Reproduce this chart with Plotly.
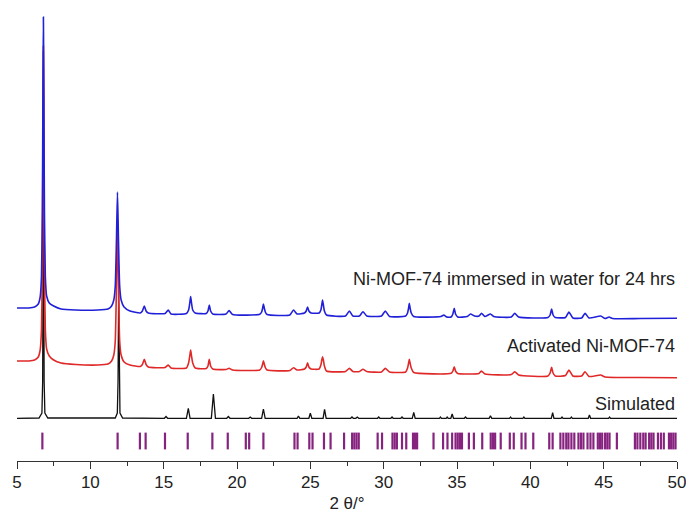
import plotly.graph_objects as go

# ---------------- data ----------------
# Ni-MOF-74 immersed in water for 24 hrs (blue): 2theta and intensity (a.u.)
water_x = [5.0, 5.8, 6.2, 6.45, 6.58, 6.67, 6.73, 6.77, 6.8, 6.83, 6.87, 6.93, 7.02, 7.2, 7.5, 8.0,
           9.0, 10.5, 11.2, 11.45, 11.6, 11.7, 11.78, 11.85, 11.92, 12.0, 12.1, 12.3, 12.7,
           13.4, 13.55, 13.68, 13.8, 13.95, 15.1, 15.31, 15.5,
           16.55, 16.7, 16.78, 16.84, 16.9, 16.98, 17.15,
           17.9, 18.02, 18.11, 18.2, 18.35, 19.25, 19.46, 19.7,
           21.55, 21.68, 21.75, 21.8, 21.86, 21.93, 22.05, 23.6, 23.85, 24.1,
           24.6, 24.72, 24.81, 24.9, 25.05,
           25.6, 25.72, 25.78, 25.83, 25.89, 25.96, 26.1,
           27.4, 27.66, 27.9, 28.35, 28.59, 28.85, 29.85, 30.11, 30.4,
           31.5, 31.63, 31.7, 31.75, 31.8, 31.88, 32.05,
           33.9, 34.1, 34.3, 34.6, 34.72, 34.81, 34.9, 35.05,
           35.7, 35.92, 36.2, 36.5, 36.67, 36.9, 37.28, 37.5, 38.7, 38.94, 39.2,
           41.2, 41.35, 41.45, 41.55, 41.7, 42.4, 42.63, 42.9, 43.5, 43.73,
           44.0, 44.8, 45.1, 45.37, 45.6, 47.5, 50.0]
water_y = [13, 13, 14, 17, 24, 45, 110, 230, 304, 230, 110, 45, 25, 18, 15, 12,
           11, 11, 12, 15, 21, 35, 80, 129, 80, 35, 21, 14, 10,
           8, 10, 15, 10, 8, 7.5, 11, 7,
           7.5, 11, 18, 24.5, 18, 11, 8,
           7.5, 10, 16, 10, 7, 7, 10.5, 6.5,
           6.7, 9, 13, 17, 13, 9, 6.5, 6, 11, 7,
           8, 10, 14, 10, 8,
           8, 11, 16, 21, 16, 10, 6,
           5, 10, 5, 5, 9.3, 5, 5, 10, 4.5,
           5, 8, 13, 17.7, 13, 8, 4.5,
           4.5, 6, 4, 4, 7, 12.7, 7, 4,
           4.5, 7, 5, 5, 7.7, 4.5, 7, 4.5, 4, 7.7, 4,
           3.5, 6, 12, 6, 3.5, 3.5, 9, 3, 3, 7.7,
           3, 5, 2.5, 4, 2.5, 2.5, 2.7]

# Activated Ni-MOF-74 (red)
act_x = [5.0, 5.8, 6.2, 6.45, 6.58, 6.67, 6.73, 6.77, 6.8, 6.83, 6.87, 6.93, 7.02, 7.2, 7.5, 8.0,
         9.0, 10.5, 11.2, 11.45, 11.6, 11.7, 11.78, 11.85, 11.92, 12.0, 12.1, 12.3, 12.7,
         13.4, 13.55, 13.68, 13.8, 13.95, 15.1, 15.31, 15.5,
         16.55, 16.7, 16.78, 16.84, 16.9, 16.98, 17.15,
         17.9, 18.02, 18.11, 18.2, 18.35, 19.25, 19.46, 19.7,
         21.55, 21.68, 21.75, 21.8, 21.86, 21.93, 22.05, 23.6, 23.85, 24.1,
         24.6, 24.72, 24.81, 24.9, 25.05,
         25.6, 25.72, 25.78, 25.83, 25.89, 25.96, 26.1,
         27.4, 27.66, 27.9, 28.35, 28.59, 28.85, 29.85, 30.11, 30.4,
         31.5, 31.63, 31.7, 31.75, 31.8, 31.88, 32.05,
         34.6, 34.72, 34.81, 34.9, 35.05, 36.5, 36.67, 36.9, 38.7, 38.94, 39.2,
         41.2, 41.35, 41.45, 41.55, 41.7, 42.4, 42.63, 42.9, 43.5, 43.73, 44.0,
         44.8, 45.1, 47.5, 50.0]
act_y = [20, 20, 21, 24, 31, 52, 117, 250, 335, 250, 117, 52, 32, 25, 21, 18,
         16.5, 16, 17, 20, 26, 40, 95, 160, 95, 40, 26, 19, 16,
         14.5, 16.5, 21.7, 16.5, 14, 13.5, 16, 13,
         13, 18, 25, 31, 25, 18, 13,
         12.5, 15, 21.7, 15, 12, 11.5, 12.7, 11,
         11, 13.5, 17, 20.3, 17, 13.5, 11, 10.5, 13.3, 11,
         12, 14, 18.3, 14, 12,
         12, 16, 21, 24.3, 21, 15, 10,
         9.5, 12.7, 9.5, 9.5, 11.7, 9.5, 9, 12.7, 9,
         9, 13, 18, 21.7, 18, 13, 8.5,
         7.7, 10, 14.3, 10, 7.5, 7.5, 10, 7, 6.5, 9.3, 6,
         5, 8, 13.7, 8, 5, 5.5, 11, 5, 5, 9.3, 4.5,
         6, 4, 3.5, 3.3]

# Simulated pattern (black)
sim_x = [5.0, 6.5, 6.7, 6.75, 6.78, 6.8, 6.82, 6.85, 6.9, 7.1,
         11.7, 11.84, 11.89, 11.93, 11.97, 12.02, 12.2,
         15.05, 15.16, 15.27, 16.55, 16.68, 16.8, 18.25, 18.39, 18.53, 19.3, 19.41, 19.52,
         20.8, 20.9, 21.0, 21.68, 21.8, 21.92, 24.1, 24.19, 24.28, 24.9, 25.0, 25.1,
         25.87, 25.97, 26.08, 27.75, 27.84, 27.93, 28.1, 28.2, 28.3, 29.58, 29.66, 29.74,
         30.49, 30.57, 30.65, 31.17, 31.25, 31.33, 31.95, 32.05, 32.15, 33.8, 33.87, 33.94,
         34.26, 34.33, 34.4, 34.58, 34.67, 34.76, 35.5, 35.58, 35.66, 37.19, 37.28, 37.37,
         38.58, 38.65, 38.72, 39.49, 39.56, 39.63, 41.43, 41.52, 41.61, 42.09, 42.16, 42.23,
         42.73, 42.8, 42.87, 43.95, 44.03, 44.11, 45.33, 45.4, 45.47, 50.0]
sim_y = [2.7, 3, 8, 40, 200, 370, 200, 40, 8, 3,
         3, 8, 40, 131, 40, 8, 3,
         2.7, 4.5, 2.7, 2.7, 12.7, 2.7, 2.7, 27, 2.7, 2.7, 4.5, 2.7,
         2.7, 4, 2.7, 2.7, 12, 2.7, 2.7, 5, 2.7, 2.7, 7.7, 2.7,
         2.7, 11.7, 2.7, 2.7, 4, 2.7, 2.7, 4, 2.7, 2.7, 4, 2.7,
         2.7, 4, 2.7, 2.7, 4, 2.7, 2.7, 8.7, 2.7, 2.7, 4, 2.7,
         2.7, 4, 2.7, 2.7, 7, 2.7, 2.7, 4, 2.7, 2.7, 5.3, 2.7,
         2.7, 4, 2.7, 2.7, 4, 2.7, 2.7, 8.3, 2.7, 2.7, 4, 2.7,
         2.7, 4, 2.7, 2.7, 6, 2.7, 2.7, 4, 2.7, 2.7]

# Bragg reflection positions (purple ticks)
refl_x = [6.73, 11.86, 13.38, 13.77, 15.09, 16.64, 18.32, 19.37, 20.6, 20.83, 21.8, 23.92, 24.13,
          24.93, 25.15, 25.93, 26.38, 27.3, 27.85, 28.0, 28.15, 28.3, 29.59, 29.89, 30.6, 30.75,
          30.9, 31.25, 31.54, 32.0, 32.14, 32.28, 33.4, 34.05, 34.35, 34.67, 34.9, 35.05, 35.2,
          35.34, 35.81, 36.15, 36.72, 37.3, 37.45, 37.6, 37.98, 38.6, 38.87, 39.4, 39.67, 40.2,
          41.29, 41.52, 42.05, 42.25, 42.45, 42.6, 42.8, 43.0, 43.28, 43.45, 43.62, 43.9, 44.1,
          44.3, 44.6, 44.75, 44.9, 45.1, 45.25, 45.4, 45.9, 47.13, 47.3, 47.5, 47.7, 47.86, 48.1,
          48.25, 48.4, 48.7, 48.9, 49.1, 49.45, 49.6, 49.75, 49.9]

labels = ["Ni-MOF-74 immersed in water for 24 hrs", "Activated Ni-MOF-74", "Simulated"]
x_ticks = [5, 10, 15, 20, 25, 30, 35, 40, 45, 50]

# ---------------- layout / style ----------------
offsets = {"water": 140, "act": 80, "sim": 40}
refl_level = 20
label_y = [182, 115, 57]
FONT = "Arial, Liberation Sans, Helvetica, sans-serif"

fig = go.Figure()
fig.add_trace(go.Scatter(x=sim_x, y=[v + offsets["sim"] for v in sim_y], mode="lines",
                         line=dict(color="#111111", width=1.3), hoverinfo="skip"))
fig.add_trace(go.Scatter(x=act_x, y=[v + offsets["act"] for v in act_y], mode="lines",
                         line=dict(color="#e02828", width=1.6, shape="spline", smoothing=0.5),
                         hoverinfo="skip"))
fig.add_trace(go.Scatter(x=water_x, y=[v + offsets["water"] for v in water_y], mode="lines",
                         line=dict(color="#2020d8", width=1.6, shape="spline", smoothing=0.5),
                         hoverinfo="skip"))
fig.add_trace(go.Scatter(x=refl_x, y=[refl_level] * len(refl_x), mode="markers",
                         marker=dict(symbol="line-ns-open", size=12, color="#86237f",
                                     line=dict(color="#86237f", width=2.2)),
                         hoverinfo="skip"))

for txt, yy in zip(labels, label_y):
    fig.add_annotation(x=1, xref="paper", xanchor="right", y=yy, yref="y", yanchor="middle",
                       text=txt, showarrow=False, font=dict(family=FONT, size=18, color="#222222"))

fig.update_layout(
    width=686, height=523,
    margin=dict(l=17, r=9, t=0, b=62),
    plot_bgcolor="white", paper_bgcolor="white",
    showlegend=False,
    font=dict(family=FONT, size=17, color="#222222"),
    xaxis=dict(range=[5, 50], tickvals=x_ticks, ticks="outside", ticklen=7, tickwidth=1.3,
               tickcolor="#333333", showline=True, linecolor="#333333", linewidth=1.3,
               showgrid=False, zeroline=False, ticklabeloverflow="allow", ticklabelstandoff=-2,
               minor=dict(dtick=2.5, ticks="outside", ticklen=4, tickwidth=1.3, tickcolor="#333333"),
               title=dict(text="2 θ/°", standoff=6, font=dict(size=17)),
               tickfont=dict(size=17)),
    yaxis=dict(range=[0, 461], visible=False, fixedrange=True),
)

fig.write_html("out.html")
